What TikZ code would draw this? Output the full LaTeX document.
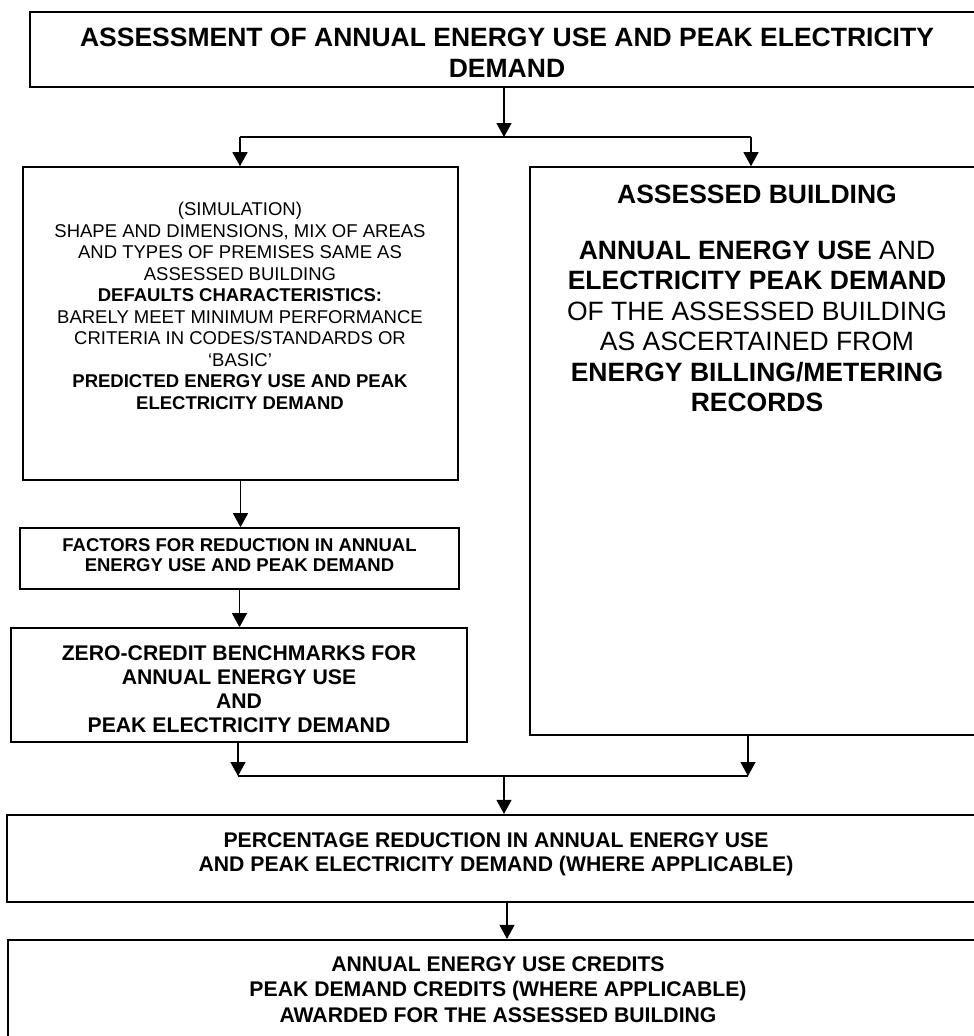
\documentclass[tikz,border=0pt]{standalone}
\usepackage{fontspec}
\setmainfont{Liberation Sans}
\usetikzlibrary{arrows.meta,positioning}

\tikzset{
  box/.style={draw, rectangle, line width=1.6pt, inner sep=0pt},
  bigbox/.style={box, line width=2.2pt},
  txt/.style={anchor=north, inner sep=0pt, align=center},
  flow/.style={line width=1.2pt, -{Triangle[width=15pt,length=14pt]}},
  link/.style={line width=1.2pt}
}

\begin{document}
\begin{tikzpicture}[x=1pt, y=-1pt]
  \useasboundingbox (0,0) rectangle (974,1036);
  \clip (0,0) rectangle (974,1036);

  % Boxes
  \node[bigbox, minimum width=958pt, minimum height=75pt]  (assess)  at (509,49.2)  {};
  \node[box,    minimum width=435pt, minimum height=313pt] (sim)     at (240.5,323.5) {};
  \node[box,    minimum width=454pt, minimum height=568pt] (bldg)    at (757,451)   {};
  \node[box,    minimum width=439pt, minimum height=61pt]  (factors) at (239.5,558.5) {};
  \node[box,    minimum width=456pt, minimum height=114pt] (zero)    at (239,685)   {};
  \node[bigbox, minimum width=978pt, minimum height=87pt]  (pct)     at (496,858.5) {};
  \node[bigbox, minimum width=980pt, minimum height=110pt] (credits) at (498,995)   {};

  % Texts
  \node[txt, font={\fontsize{26.5}{30.5}\selectfont\bfseries}] (assesstxt) at (507,28)
    {ASSESSMENT OF ANNUAL ENERGY USE AND PEAK ELECTRICITY\\DEMAND};
  \node[txt, font={\fontsize{18.5}{21.5}\selectfont}] (simtxt) at (240,202)
    {(SIMULATION)\\
     SHAPE AND DIMENSIONS, MIX OF AREAS\\
     AND TYPES OF PREMISES SAME AS\\
     ASSESSED BUILDING\\
     \textbf{DEFAULTS CHARACTERISTICS:}\\
     BARELY MEET MINIMUM PERFORMANCE\\
     CRITERIA IN CODES/STANDARDS OR\\
     ‘BASIC’\\
     \textbf{PREDICTED ENERGY USE AND PEAK}\\
     \textbf{ELECTRICITY DEMAND}};
  \node[txt, font={\fontsize{26.5}{30.5}\selectfont}] (bldgtxt) at (757,185)
    {\textbf{ASSESSED BUILDING}\\[25pt]
     \textbf{ANNUAL ENERGY USE} AND\\
     \textbf{ELECTRICITY PEAK DEMAND}\\
     OF THE ASSESSED BUILDING\\
     AS ASCERTAINED FROM\\
     \textbf{ENERGY BILLING/METERING}\\
     \textbf{RECORDS}};
  \node[txt, font={\fontsize{18.5}{20.5}\selectfont\bfseries}] (factorstxt) at (239.5,538)
    {FACTORS FOR REDUCTION IN ANNUAL\\ENERGY USE AND PEAK DEMAND};
  \node[txt, font={\fontsize{21.2}{24}\selectfont\bfseries}] (zerotxt) at (239,645)
    {ZERO-CREDIT BENCHMARKS FOR\\ANNUAL ENERGY USE\\AND\\PEAK ELECTRICITY DEMAND};
  \node[txt, font={\fontsize{21.2}{24}\selectfont\bfseries}] (pcttxt) at (496,832)
    {PERCENTAGE REDUCTION IN ANNUAL ENERGY USE\\AND PEAK ELECTRICITY DEMAND (WHERE APPLICABLE)};
  \node[txt, font={\fontsize{21.2}{25.5}\selectfont\bfseries}] (creditstxt) at (498,956)
    {ANNUAL ENERGY USE CREDITS\\PEAK DEMAND CREDITS (WHERE APPLICABLE)\\AWARDED FOR THE ASSESSED BUILDING};

  % Split and merge points
  \coordinate (split) at (504,137);
  \coordinate (lsplit) at (240,137);
  \coordinate (rsplit) at (751,137);
  \coordinate (merge) at (504,776);
  \coordinate (lmerge) at (238,776);
  \coordinate (rmerge) at (748,776);
  \coordinate (down) at (507,900);

  % Arrows
  \draw[flow] (split |- assess.south) -- (split);
  \draw[link] (lsplit) -- (rsplit);
  \draw[flow] (lsplit) -- (lsplit |- sim.north);
  \draw[flow] (rsplit) -- (rsplit |- bldg.north);
  \draw[flow] (sim.south) -- (sim.south |- factors.north);
  \draw[flow] (factors.south) -- (factors.south |- zero.north);
  \draw[flow] (lmerge |- zero.south) -- (lmerge);
  \draw[flow] (rmerge |- bldg.south) -- (rmerge);
  \draw[link] (lmerge) -- (rmerge);
  \draw[flow] (merge) -- (merge |- pct.north);
  \draw[flow] (down |- pct.south) -- (down |- credits.north);
\end{tikzpicture}
\end{document}
